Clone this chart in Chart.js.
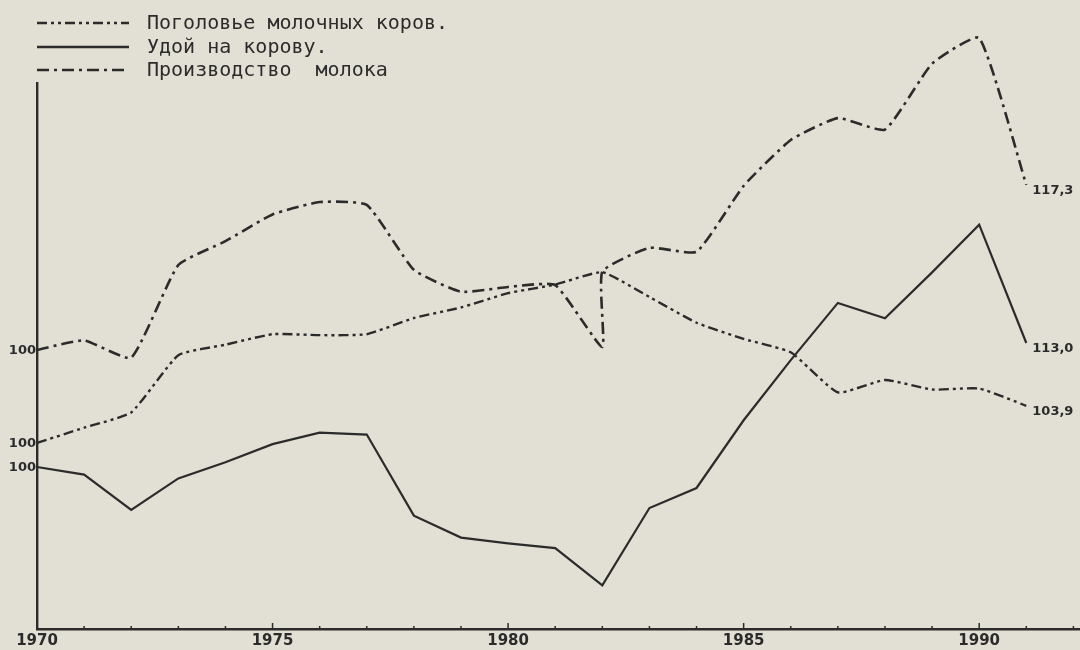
<!DOCTYPE html>
<html>
<head>
<meta charset="utf-8">
<script src="https://cdn.jsdelivr.net/npm/chart.js@4"></script>
<style>
  html, body { margin: 0; padding: 0; background: #e2e0d4; }
  #wrap { width: 1080px; height: 650px; position: relative; }
</style>
</head>
<body>
<div id="wrap"><canvas id="milkChart"></canvas></div>
<script>
// index values, 1970 = 100
const years = [1970, 1971, 1972, 1973, 1974, 1975, 1976, 1977, 1978, 1979, 1980,
               1981, 1982, 1983, 1984, 1985, 1986, 1987, 1988, 1989, 1990, 1991];
const cowHerd = [100, 101.6, 103.2, 109.2, 110.3, 111.4, 111.3, 111.4, 113.1, 114.2, 115.7,
                 116.6, 117.9, 115.3, 112.6, 110.9, 109.5, 105.3, 106.6, 105.6, 105.7, 103.9];
const milkYield = [100, 99.2, 95.5, 98.8, 100.5, 102.4, 103.6, 103.4, 94.9, 92.6, 92.0,
                   91.5, 87.6, 95.7, 97.8, 104.9, 111.2, 117.2, 115.6, 120.4, 125.4, 113.0];
// production line has a vertical jump drawn at 1982
const prodYears = [1970, 1971, 1972, 1973, 1974, 1975, 1976, 1977, 1978, 1979, 1980,
                   1981, 1982, 1982, 1983, 1984, 1985, 1986, 1987, 1988, 1989, 1990, 1991];
const milkOutput = [100, 101.0, 99.2, 108.9, 111.4, 114.2, 115.5, 115.2, 108.4, 106.1, 106.6,
                    106.8, 100.3, 108.2, 110.7, 110.3, 117.2, 122.0, 124.3, 123.1, 130.0, 132.7, 117.3];
const seriesNames = ['Поголовье молочных коров.', 'Удой на корову.', 'Производство  молока'];
const yearTicks = [1970, 1975, 1980, 1985, 1990];

const ink = '#2b2b2b';

function points(xs, ys) {
    return xs.map((x, i) => ({ x: x, y: ys[i] }));
}

function fmt(v) {
    return v.toFixed(1).replace('.', ',');
}

// small year marks pointing up from the x axis
const yearMarks = {
    id: 'yearMarks',
    afterDatasetsDraw(chart) {
        const ctx = chart.ctx;
        const xs = chart.scales.x;
        const bottom = chart.chartArea.bottom;
        ctx.save();
        ctx.strokeStyle = ink;
        ctx.lineWidth = 1.5;
        for (let yr = 1970; yr <= 1992; yr++) {
            const px = xs.getPixelForValue(yr);
            const len = yr % 5 === 0 ? 6 : 3;
            ctx.beginPath();
            ctx.moveTo(px, bottom);
            ctx.lineTo(px, bottom - len);
            ctx.stroke();
        }
        ctx.restore();
    }
};

// "100" base labels and end values
const valueLabels = {
    id: 'valueLabels',
    afterDatasetsDraw(chart) {
        const ctx = chart.ctx;
        ctx.save();
        ctx.fillStyle = ink;
        ctx.font = 'bold 13px "DejaVu Sans"';
        ctx.textBaseline = 'middle';
        chart.data.datasets.forEach((ds, i) => {
            const meta = chart.getDatasetMeta(i);
            const scale = chart.scales[ds.yAxisID];
            const first = ds.data[0].y;
            ctx.textAlign = 'right';
            ctx.fillText(String(Math.round(first)), 36, scale.getPixelForValue(first) + 1);
            const last = meta.data[meta.data.length - 1];
            ctx.textAlign = 'left';
            ctx.fillText(fmt(ds.data[ds.data.length - 1].y), last.x + 6, last.y + 6);
        });
        ctx.restore();
    }
};

// legend block at the top left
const topLegend = {
    id: 'topLegend',
    afterDraw(chart) {
        const ctx = chart.ctx;
        const rows = [23, 47, 70];
        ctx.save();
        chart.data.datasets.forEach((ds, i) => {
            ctx.strokeStyle = ink;
            ctx.lineWidth = 2.4;
            ctx.setLineDash(ds.borderDash || []);
            ctx.beginPath();
            ctx.moveTo(37, rows[i]);
            ctx.lineTo(129, rows[i]);
            ctx.stroke();
            ctx.setLineDash([]);
            ctx.fillStyle = ink;
            ctx.font = '20px "DejaVu Sans Mono"';
            ctx.textAlign = 'left';
            ctx.textBaseline = 'middle';
            ctx.fillText(ds.label, 147, rows[i] + 1);
        });
        ctx.restore();
    }
};

const ctx = document.getElementById('milkChart').getContext('2d');
const milkChart = new Chart(ctx, {
    type: 'line',
    data: {
        datasets: [{
            label: seriesNames[0],
            data: points(years, cowHerd),
            yAxisID: 'yCows',
            borderColor: ink,
            borderWidth: 2.4,
            borderDash: [10, 4, 3, 4, 3, 4],
            pointRadius: 0,
            tension: 0.15,
            clip: false,
        }, {
            label: seriesNames[1],
            data: points(years, milkYield),
            yAxisID: 'yYield',
            borderColor: ink,
            borderWidth: 2.2,
            pointRadius: 0,
            tension: 0,
            clip: false,
        }, {
            label: seriesNames[2],
            data: points(prodYears, milkOutput),
            yAxisID: 'yProd',
            borderColor: ink,
            borderWidth: 2.6,
            borderDash: [12, 5, 3, 5],
            pointRadius: 0,
            tension: 0.15,
            clip: false,
        }],
    },
    options: {
        responsive: true,
        maintainAspectRatio: false,
        animation: false,
        layout: { padding: { top: 83, left: 37, right: 0, bottom: 0 } },
        plugins: {
            legend: { display: false },
            tooltip: { enabled: false },
        },
        scales: {
            x: {
                type: 'linear',
                min: 1970,
                max: 1992.14,
                afterBuildTicks: (scale) => {
                    scale.ticks = yearTicks.map(v => ({ value: v }));
                },
                afterFit: (scale) => { scale.height = 21; },
                ticks: {
                    color: ink,
                    padding: 3,
                    maxRotation: 0,
                    autoSkip: false,
                    font: { family: 'DejaVu Sans', size: 15, weight: 'bold' },
                    callback: (v) => String(v),
                },
                grid: { drawOnChartArea: false, drawTicks: false },
                border: { display: true, color: ink, width: 2.4 },
            },
            yProd: {
                position: 'left',
                min: 70.75,
                max: 127.98,
                afterFit: (scale) => { scale.width = 0; },
                ticks: { display: false },
                grid: { drawOnChartArea: false, drawTicks: false },
                border: { display: true, color: ink, width: 2.4 },
            },
            yCows: {
                display: false,
                min: 80.50,
                max: 137.73,
            },
            yYield: {
                display: false,
                min: 83.02,
                max: 140.25,
            },
        },
    },
    plugins: [yearMarks, valueLabels, topLegend],
});
</script>
</body>
</html>
